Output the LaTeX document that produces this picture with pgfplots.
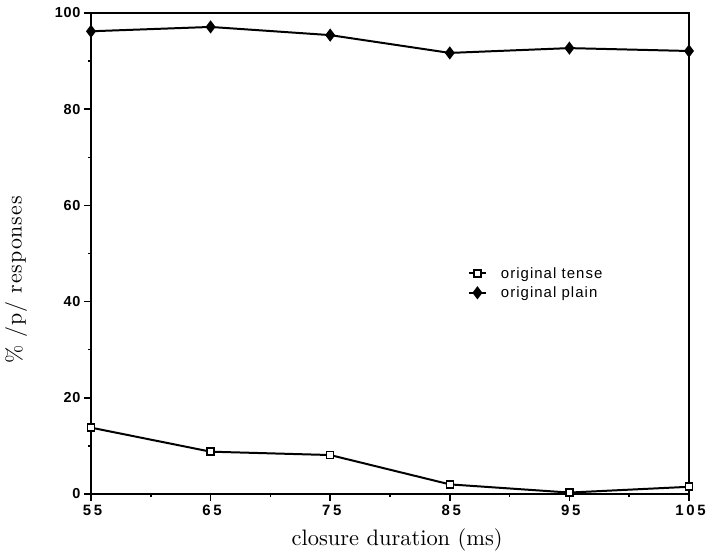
\documentclass[border=0pt]{standalone}
\usepackage{fontspec}
\usepackage{pgfplots}
\pgfplotsset{compat=1.18}
\newfontfamily\xticksf[LetterSpace=18]{Liberation Sans}
\newfontfamily\yticksf[LetterSpace=5]{Liberation Sans}
\newfontfamily\legsf[LetterSpace=7]{Liberation Sans}
\newfontfamily\xlabfont{lmroman10-regular.otf}
\newfontfamily\ylabfont[LetterSpace=4]{lmroman10-regular.otf}
\begin{document}
\begin{tikzpicture}
\begin{axis}[
  at={(0,0)}, anchor=south west,
  scale only axis, width=598bp, height=481bp,
  xmin=55, xmax=105, ymin=0, ymax=100,
  xtick={55,65,...,105}, minor xtick={60,70,...,100},
  ytick={0,20,...,100}, minor ytick={10,30,...,90},
  xtick pos=bottom, ytick pos=left,
  tick align=outside,
  major tick length=7bp, minor tick length=3bp,
  every tick/.style={line width=1.5pt,black},
  axis line style={line width=1.8pt},
  /pgf/number format/assume math mode=true,
  xticklabel style={font=\xticksf\bfseries\fontsize{15}{17}\selectfont, yshift=-1bp, xshift=1.5bp},
  yticklabel style={font=\yticksf\bfseries\fontsize{14.5}{16}\selectfont},
  xlabel={closure duration (ms)},
  ylabel={\% /p/ responses},
  xlabel style={font=\xlabfont\fontsize{22.5}{25}\selectfont,
    at={(axis description cs:0.512,-0.095)}, anchor=center},
  ylabel style={font=\ylabfont\fontsize{22}{25}\selectfont,
    at={(axis description cs:-0.125,0.445)}, anchor=center},
  legend style={at={(0.625,0.48)}, anchor=north west, draw=none, fill=none,
    font=\legsf\fontsize{15}{17}\selectfont, row sep=3bp, column sep=12bp},
  legend cell align=left,
]
\addplot[black, line width=2pt, mark=square*, mark size=3.5bp,
  mark options={fill=white, line width=1.6pt}]
  coordinates {(55,13.8) (65,8.8) (75,8.1) (85,2.0) (95,0.3) (105,1.5)};
\addlegendentry{original tense}
\addplot[black, line width=2pt, mark=diamond*, mark size=5bp,
  mark options={fill=black}]
  coordinates {(55,96.2) (65,97.1) (75,95.4) (85,91.7) (95,92.7) (105,92.1)};
\addlegendentry{original plain}
\end{axis}
\pgfresetboundingbox
\path[use as bounding box] (-91bp,-62bp) rectangle (618bp,494bp);
\end{tikzpicture}
\end{document}
